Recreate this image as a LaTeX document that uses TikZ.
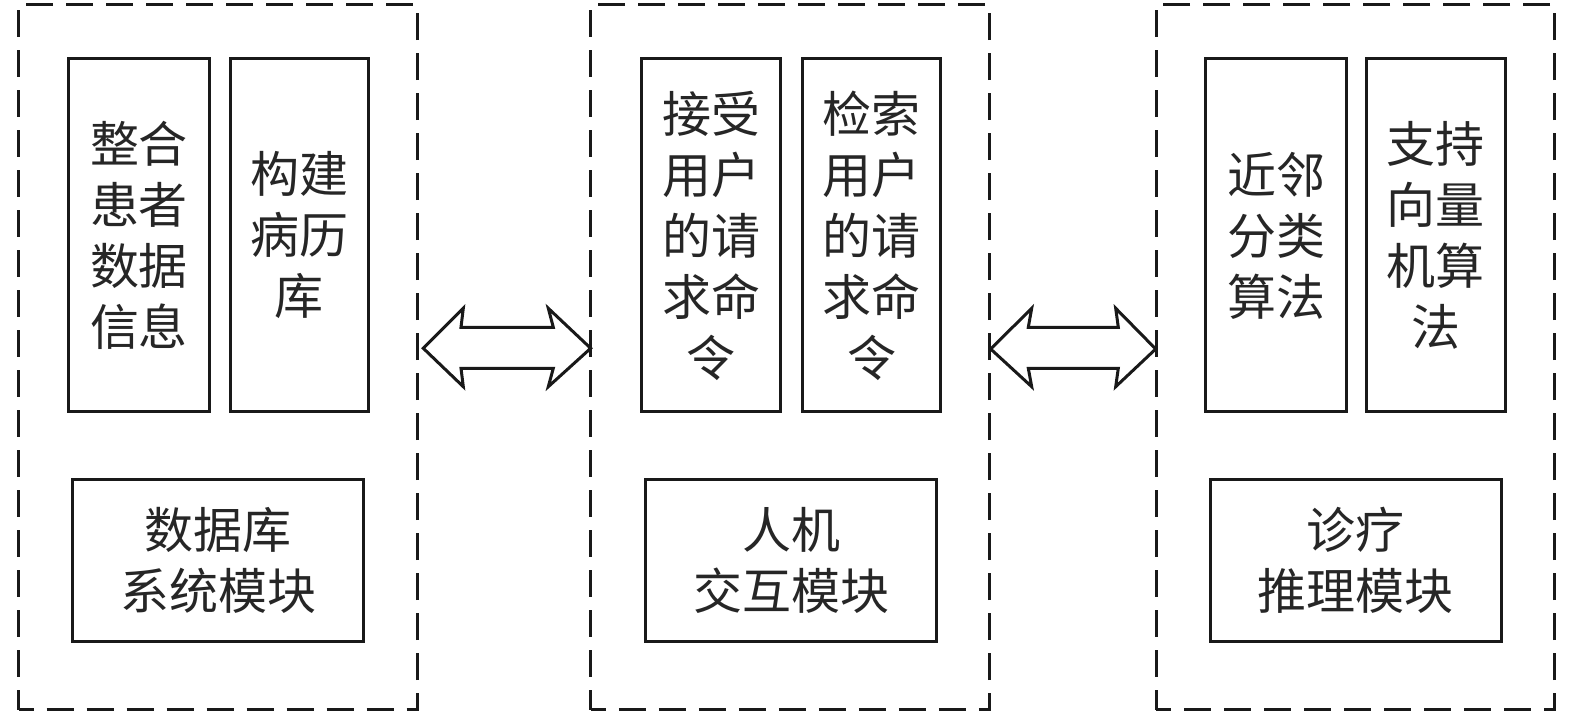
\documentclass[tikz,border=0pt]{standalone}
\usepackage{fontspec}
\newfontfamily\cjk{Noto Sans CJK SC}
\begin{document}
\begin{tikzpicture}[x=0.5pt,y=-0.5pt,
  outer/.style={draw=black!90, line width=1.5pt, dash pattern=on 13.5pt off 6.5pt, dash phase=6pt, inner sep=0pt, outer sep=0pt, rectangle, minimum width=199.3pt, minimum height=352.5pt},
  tall/.style={draw=black!90, line width=1.5pt, inner sep=0pt, outer sep=0pt, minimum height=176.5pt, align=center, font=\cjk\fontsize{24.5pt}{30.5pt}\selectfont, text=black!85},
  wide/.style={draw=black!90, line width=1.5pt, inner sep=0pt, outer sep=0pt, minimum width=145.5pt, minimum height=81pt, align=center, font=\cjk\fontsize{24.5pt}{30.5pt}\selectfont, text=black!85},
  blockarrow/.style={draw=black!90, line width=1.5pt, line join=miter, fill=white}
]
\useasboundingbox (0,0) rectangle (1575,716);

% dashed module boxes
\node[outer] (A) at (218,357) {};
\node[outer] (B) at (790.2,357) {};
\node[outer] (C) at (1355.3,357) {};

% inner tall boxes
\node[tall, minimum width=70.5pt] (A1) at (139,235.5) {整合\\患者\\数据\\信息};
\node[tall, minimum width=69.3pt] (A2) at (299.3,235.5) {构建\\病历\\库};
\node[tall, minimum width=69.5pt] (B1) at (711,235.5) {接受\\用户\\的请\\求命\\令};
\node[tall, minimum width=69.2pt] (B2) at (871.5,235.5) {检索\\用户\\的请\\求命\\令};
\node[tall, minimum width=70.5pt] (C1) at (1276,235.5) {近邻\\分类\\算法};
\node[tall, minimum width=69.2pt] (C2) at (1435.8,235.5) {支持\\向量\\机算\\法};

% bottom module name boxes
\node[wide] (A3) at (218.3,560.6) {数据库\\系统模块};
\node[wide] (B3) at (791.3,560.6) {人机\\交互模块};
\node[wide] (C3) at (1355.5,560.6) {诊疗\\推理模块};

% block double arrows between modules
\draw[blockarrow] (423.3,348.3) -- (463.3,308.3) -- (461,327.3) -- (553.3,327.3) -- (548.3,308.3) -- (590.7,348.3)
  -- (548.3,386.7) -- (553.3,368.3) -- (461,368.3) -- (463.3,386.7) -- cycle;
\draw[blockarrow] (990.7,349) -- (1031.7,308.3) -- (1028.3,327.3) -- (1118.3,327.3) -- (1115.7,308.3) -- (1155.7,349)
  -- (1115.7,386.7) -- (1118.3,368.3) -- (1028.3,368.3) -- (1031.7,386.7) -- cycle;
\end{tikzpicture}
\end{document}
